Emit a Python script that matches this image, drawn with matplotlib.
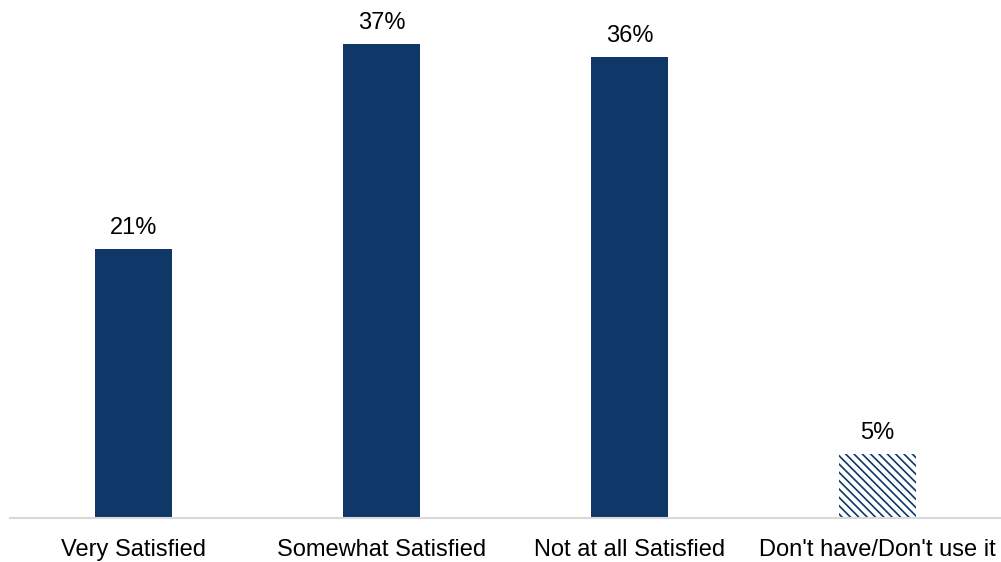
import matplotlib.pyplot as plt
import matplotlib as mpl

plt.rcParams['font.family'] = ['Liberation Sans', 'DejaVu Sans']
mpl.rcParams['hatch.linewidth'] = 1.2

# chart data
categories = ['Very Satisfied', 'Somewhat Satisfied', 'Not at all Satisfied', "Don't have/Don't use it"]
values = [21, 37, 36, 5]
hatched = [False, False, False, True]

navy = '#0F3868'

fig = plt.figure(figsize=(10.01, 5.62), dpi=100)
ax = fig.add_axes([0.01, 0.078, 0.99, 0.912])

x = range(len(categories))
for i, (v, h) in enumerate(zip(values, hatched)):
    if h:
        ax.bar(i, v, width=0.31, color='white', edgecolor=navy, hatch='\\\\\\\\', linewidth=0)
    else:
        ax.bar(i, v, width=0.31, color=navy, linewidth=0)
    ax.annotate(f'{v}%', xy=(i, v), xytext=(0, 7), textcoords='offset points',
                ha='center', va='bottom', fontsize=17, color='black')

ax.set_xlim(-0.5, 3.5)
ax.set_ylim(0, 40)
ax.set_xticks(list(x))
ax.set_xticklabels(categories, fontsize=17)
ax.tick_params(axis='x', length=0, pad=15)
ax.set_yticks([])
for s in ['top', 'right', 'left']:
    ax.spines[s].set_visible(False)
ax.spines['bottom'].set_color('#d9d9d9')
ax.spines['bottom'].set_linewidth(1.5)

plt.savefig('out.png', dpi=100)
